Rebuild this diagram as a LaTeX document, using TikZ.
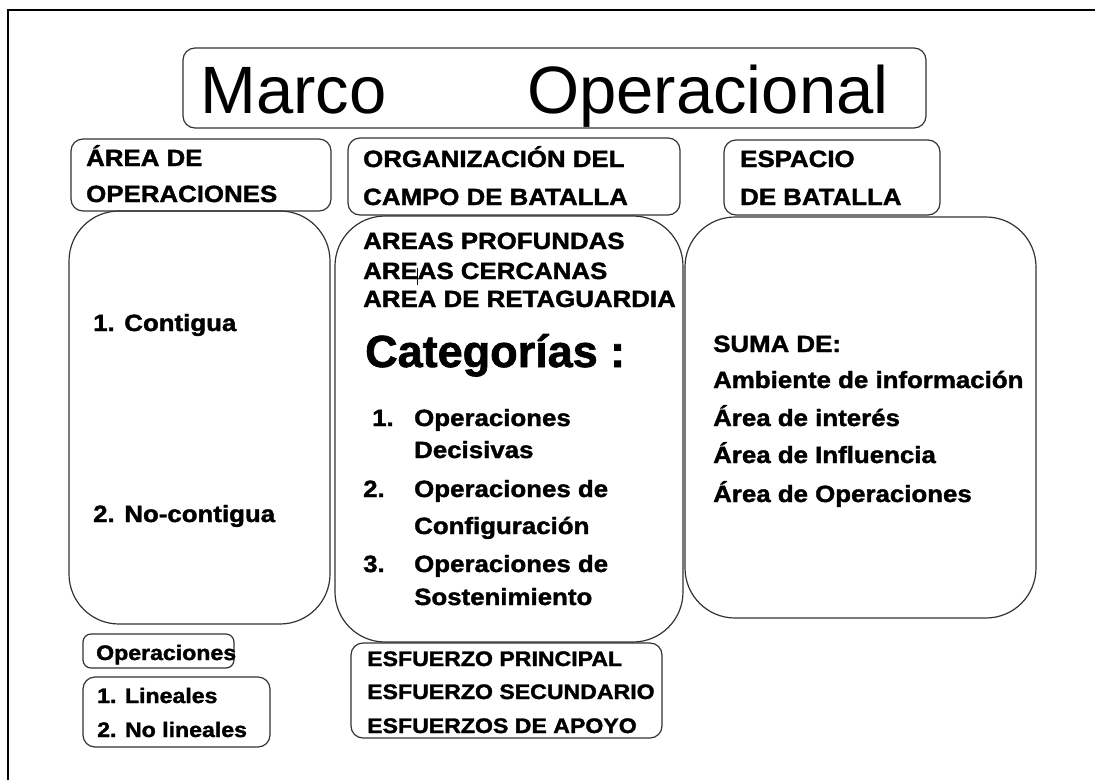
\documentclass[tikz,border=0pt]{standalone}
\usepackage{fontspec}
\usepackage{graphicx}
\setmainfont{Liberation Sans}[BoldFeatures={FakeBold=1.5}]
\newcommand{\W}[1]{\scalebox{1.1}[1]{#1}}
\tikzset{
  box/.style={draw=black!80, line width=1.2pt, rounded corners=12pt},
  bigbox/.style={draw=black!80, line width=1.2pt, rounded corners=50pt},
  txt/.style={anchor=base west, inner sep=0pt, font=\fontsize{23.5}{28}\selectfont\bfseries},
  smalltxt/.style={anchor=base west, inner sep=0pt, font=\fontsize{21}{25}\selectfont\bfseries},
  titletxt/.style={anchor=base west, inner sep=0pt, font=\fontsize{67}{80}\selectfont},
  cattxt/.style={anchor=base west, inner sep=0pt, font=\fontsize{45}{54}\selectfont\bfseries},
}
\begin{document}
\begin{tikzpicture}[x=1pt, y=-1pt]
\useasboundingbox (0,0) rectangle (1095,780);
\fill[white] (0,0) rectangle (1095,780);
% outer frame
\draw[line width=2.2pt] (8,780) -- (8,10) -- (1095,10);

% boxes
\draw[box] (183,48) rectangle (926,128);
\draw[box] (71,139) rectangle (331,211);
\draw[box] (348,138) rectangle (680,215);
\draw[box] (724,140) rectangle (940,215);
\draw[bigbox] (69,211) rectangle (330,624);
\draw[bigbox] (335,216) rectangle (683,642);
\draw[bigbox] (685,217) rectangle (1036,618);
\draw[box, rounded corners=8pt] (83,634) rectangle (234,668);
\draw[box] (83,677) rectangle (270,747);
\draw[box] (351,643) rectangle (662,738);

% title
\node[titletxt] (t1) at (200,113) {Marco};
\node[titletxt] (t2) at (527,113) {Operacional};

% headers
\node[txt] (h1a) at (86,166) {\W{ÁREA DE}};
\node[txt] (h1b) at (86,202) {\W{OPERACIONES}};
\node[txt] (h2a) at (363,167) {\W{ORGANIZACIÓN DEL}};
\node[txt] (h2b) at (363,205) {\W{CAMPO DE BATALLA}};
\node[txt] (h3a) at (740,167) {\W{ESPACIO}};
\node[txt] (h3b) at (740,205) {\W{DE BATALLA}};

% left box
\node[txt] (l1) at (93,331) {\W{1. Contigua}};
\node[txt] (l2) at (93,522) {\W{2. No-contigua}};

% middle box
\node[txt] (m1) at (363,249) {\W{AREAS PROFUNDAS}};
\node[txt] (m2) at (363,279) {\W{AREAS CERCANAS}};
\node[txt] (m3) at (363,307) {\W{AREA DE RETAGUARDIA}};
\draw[line width=0.6pt] (417,268) -- (417,285);
\node[cattxt] (cat) at (365,367) {Categorías :};
\node[txt] (n1) at (372,426) {\W{1.}};
\node[txt] (c1a) at (414,426) {\W{Operaciones}};
\node[txt] (c1b) at (414,458) {\W{Decisivas}};
\node[txt] (n2) at (363,497) {\W{2.}};
\node[txt] (c2a) at (414,497) {\W{Operaciones de}};
\node[txt] (c2b) at (414,534) {\W{Configuración}};
\node[txt] (n3) at (363,572) {\W{3.}};
\node[txt] (c3a) at (414,572) {\W{Operaciones de}};
\node[txt] (c3b) at (414,605) {\W{Sostenimiento}};

% right box
\node[txt] (r1) at (713,352) {\W{SUMA DE:}};
\node[txt] (r2) at (713,388) {\W{Ambiente de información}};
\node[txt] (r3) at (713,426) {\W{Área de interés}};
\node[txt] (r4) at (713,463) {\W{Área de Influencia}};
\node[txt] (r5) at (713,502) {\W{Área de Operaciones}};

% bottom boxes
\node[smalltxt] (o1) at (96,660) {\W{Operaciones}};
\node[smalltxt] (o2) at (97,703) {\W{1. Lineales}};
\node[smalltxt] (o3) at (97,737) {\W{2. No lineales}};
\node[smalltxt] (e1) at (367,666) {\W{ESFUERZO PRINCIPAL}};
\node[smalltxt] (e2) at (367,699) {\W{ESFUERZO SECUNDARIO}};
\node[smalltxt] (e3) at (367,733) {\W{ESFUERZOS DE APOYO}};
\end{tikzpicture}
\end{document}
